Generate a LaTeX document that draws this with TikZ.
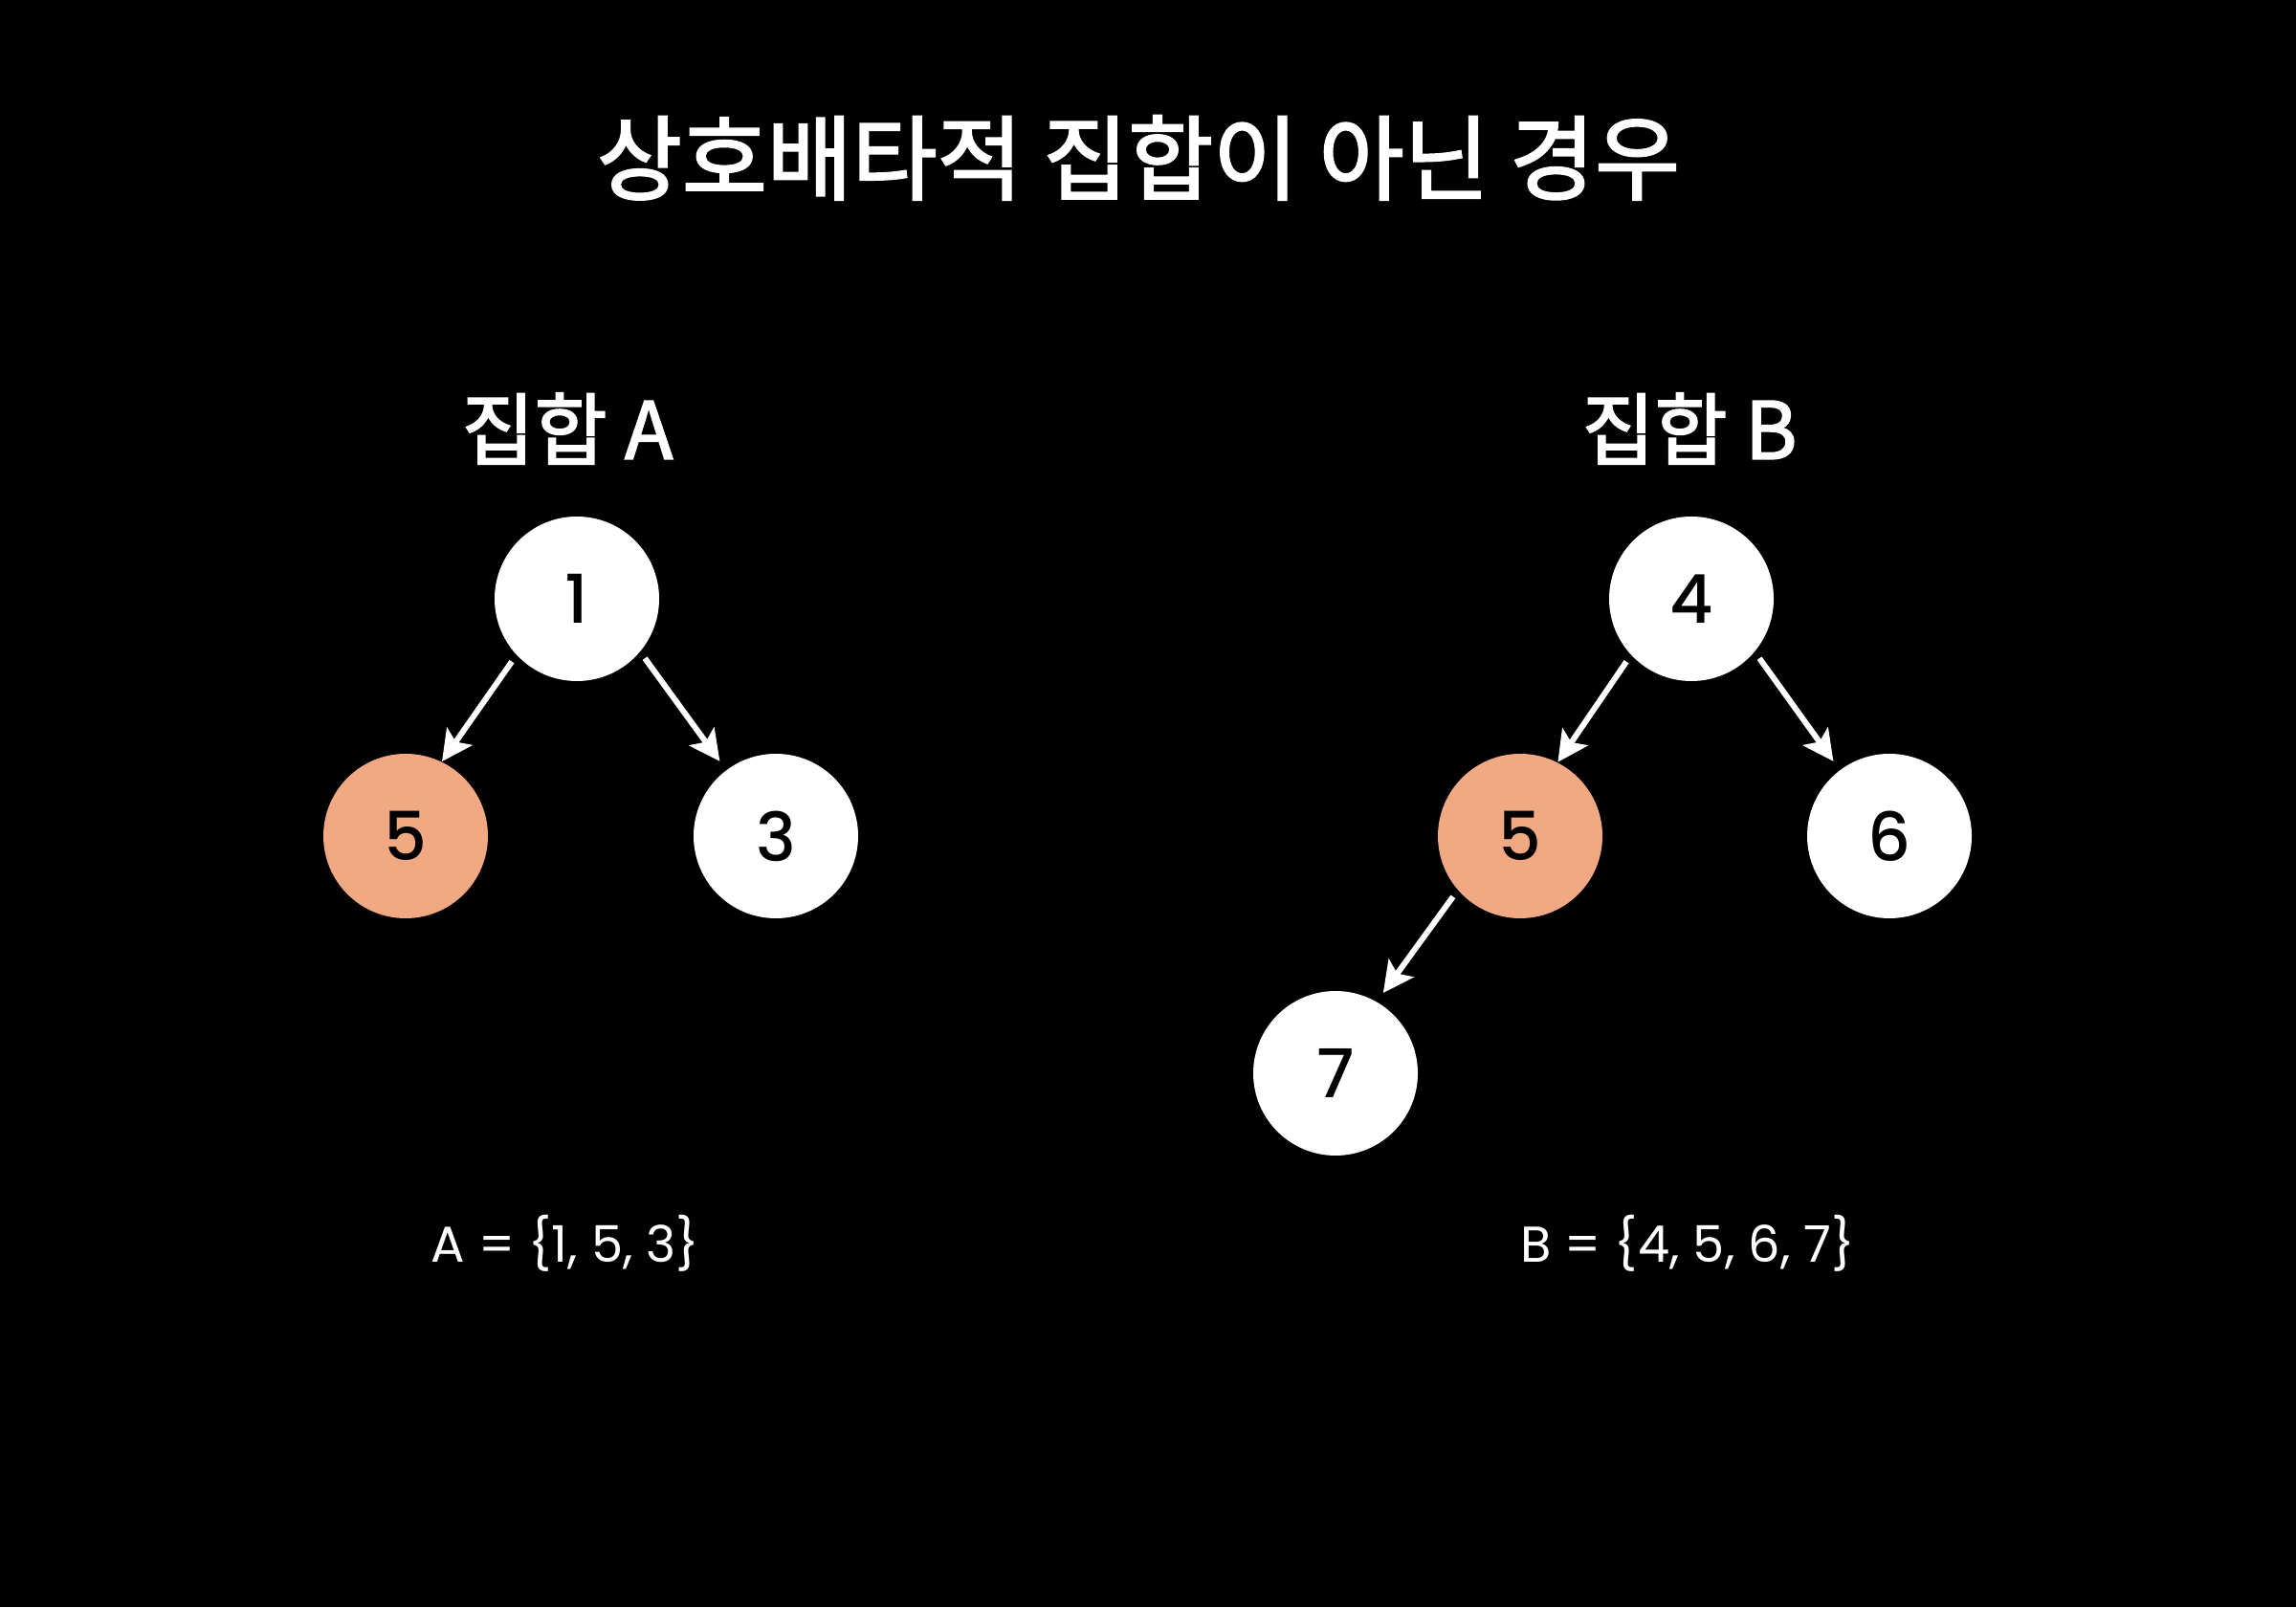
\documentclass[tikz,border=0pt]{standalone}
\usepackage{fontspec}
\setmainfont{Noto Sans CJK KR}
\newfontfamily\headfont{Noto Sans CJK KR}[FakeBold=2.2]
\newfontfamily\digitfont{Poppins}[BoldFont={* Medium}]
\usepackage{tikz}
\usetikzlibrary{arrows.meta,positioning}
\definecolor{common}{RGB}{240,169,131}

\begin{document}
\begin{tikzpicture}[
    elem/.style={circle,fill=white,minimum size=17.2mm,inner sep=0pt,font=\digitfont\bfseries\fontsize{20}{23}\selectfont},
    shared/.style={elem,fill=common},
    edge/.style={white,line width=1.7pt,-{Stealth[length=3.2mm,width=3.2mm,inset=0.7mm]}},
    heading/.style={white,font=\headfont\fontsize{27.5}{32}\selectfont},
    setname/.style={white,font=\headfont\fontsize{23.5}{28}\selectfont},
    setlist/.style={white,font=\digitfont\fontsize{15}{18}\selectfont}]
				 \fill[black] (0mm,0mm) rectangle (240mm,168mm);
				 % \draw[color=gray,step=10mm, help lines,opacity=0.3] (0mm,0mm) grid (240mm,168mm); %help grids
				 \node[heading] (title) at (119mm,151.5mm) {상호배타적 집합이 아닌 경우};
				 % set A
				 \node[setname] (nameA) at (59.3mm,123.2mm) {집합 A};
				 \node[elem] (a1) at (60.3mm,105.4mm) {1};
				 \node[shared] (a5) at (42.4mm,80.6mm) {5};
				 \node[elem] (a3) at (81.1mm,80.6mm) {3};
				 \draw[edge,shorten <=0.8mm] (a1.223)--(a5.64);
				 \draw[edge,shorten <=0.8mm,shorten >=1.1mm] (a1.320)--(a3.127);
				 \node[setlist] (listA) at (59.1mm,38mm) {A = \{1, 5, 3\}};
				 % set B
				 \node[setname] (nameB) at (176.6mm,123.2mm) {집합 B};
				 \node[elem] (b4) at (176.8mm,105.4mm) {4};
				 \node[shared] (b5) at (158.9mm,80.6mm) {5};
				 \node[elem] (b6) at (197.5mm,80.6mm) {6};
				 \node[elem] (b7) at (139.6mm,55.8mm) {7};
				 \draw[edge,shorten <=0.8mm] (b4.223)--(b5.63);
				 \draw[edge,shorten <=0.8mm,shorten >=1.1mm] (b4.320)--(b6.127);
				 \draw[edge,shorten <=0.8mm,shorten >=1.1mm] (b5.221)--(b7.60);
				 \node[setlist] (listB) at (176.4mm,38mm) {B = \{4, 5, 6, 7\}};
\end{tikzpicture}
\end{document}
